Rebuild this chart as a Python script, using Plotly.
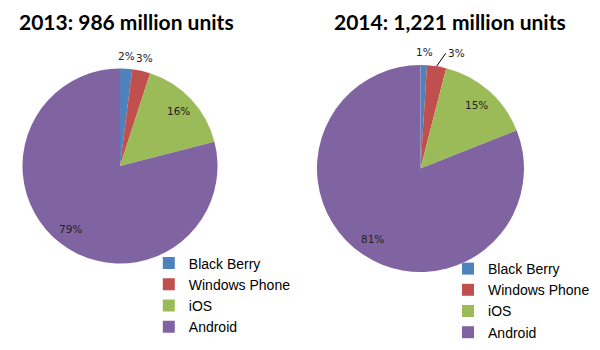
import math
import plotly.graph_objects as go

categories = ["Black Berry", "Windows Phone", "iOS", "Android"]
share_2013 = [2, 3, 16, 79]
share_2014 = [1, 3, 15, 81]
title_2013 = "2013: 986 million units"
title_2014 = "2014: 1,221 million units"
colors = ["#4F81BD", "#C0504D", "#9BBB59", "#8064A2"]

W, H = 600, 350
dom_2013 = dict(x=[0.0375, 0.3625], y=[0.2471, 0.8043])
dom_2014 = dict(x=[0.5283, 0.8733], y=[0.2229, 0.8143])

# label placement style (fraction of radius): outside for small slices, inside for big ones
label_k = [1.13, 1.13, 0.82, 0.82]
label_font = dict(family="DejaVu Sans", size=10.5, color="#222222")


def pie_geom(dom):
    x0, x1 = dom["x"]
    y0, y1 = dom["y"]
    cx = (x0 + x1) / 2 * W
    cy = (1 - (y0 + y1) / 2) * H
    r = min((x1 - x0) * W, (y1 - y0) * H) / 2
    return cx, cy, r


def label_annotations(values, dom, leader=None):
    cx, cy, r = pie_geom(dom)
    total = float(sum(values))
    anns = []
    cum = 0.0
    for i, v in enumerate(values):
        mid = (cum + v / 2) / total
        cum += v
        th = 2 * math.pi * mid
        if leader is not None and i == leader[0]:
            px = cx + r * math.sin(th)
            py = cy - r * math.cos(th)
            anns.append(dict(text=f"{v}%", x=px / W, y=1 - py / H, xref="paper", yref="paper",
                             showarrow=True, arrowhead=0, arrowwidth=1, arrowcolor="#000000",
                             standoff=0, ax=leader[1], ay=leader[2], xanchor="left",
                             yanchor="middle", font=label_font))
            continue
        k = label_k[i]
        px = cx + k * r * math.sin(th)
        py = cy - k * r * math.cos(th)
        anns.append(dict(text=f"{v}%", x=px / W, y=1 - py / H, xref="paper", yref="paper",
                         showarrow=False, xanchor="center", yanchor="middle", font=label_font))
    return anns


common = dict(
    labels=categories,
    sort=False,
    direction="clockwise",
    rotation=0,
    marker=dict(colors=colors, line=dict(width=0)),
    textinfo="none",
    hoverinfo="label+percent",
)

fig = go.Figure()
fig.add_trace(go.Pie(values=share_2013, domain=dom_2013, legend="legend",
                     legendgroup="y2013", **common))
fig.add_trace(go.Pie(values=share_2014, domain=dom_2014, legend="legend2",
                     legendgroup="y2014", **common))

legend_style = dict(
    font=dict(family="Liberation Sans, Arial", size=14, color="#000000"),
    bgcolor="rgba(0,0,0,0)",
    xanchor="left",
    yanchor="top",
    traceorder="normal",
)

title_font = dict(family="Lato", size=21, color="#000000", weight="bold")
annotations = [
    dict(text=title_2013, x=126 / W, y=1 - 22 / H, xref="paper", yref="paper",
         showarrow=False, xanchor="center", yanchor="middle", font=title_font),
    dict(text=title_2014, x=450 / W, y=1 - 22 / H, xref="paper", yref="paper",
         showarrow=False, xanchor="center", yanchor="middle", font=title_font),
]
annotations += label_annotations(share_2013, dom_2013)
annotations += label_annotations(share_2014, dom_2014, leader=(1, 9, -13))

fig.update_layout(
    width=W,
    height=H,
    margin=dict(l=0, r=0, t=0, b=0),
    paper_bgcolor="white",
    plot_bgcolor="white",
    legend=dict(x=0.248, y=1 - 247.5 / H, **legend_style),
    legend2=dict(x=0.7467, y=1 - 253 / H, **legend_style),
    annotations=annotations,
)

fig.write_html("out.html")
